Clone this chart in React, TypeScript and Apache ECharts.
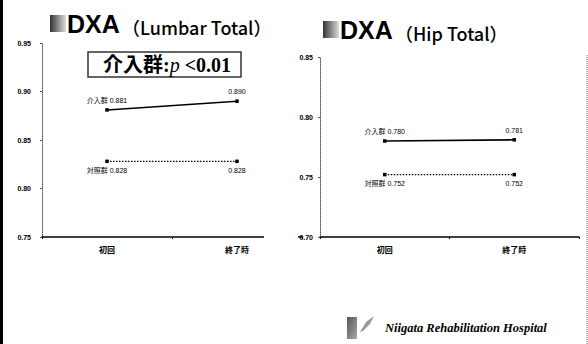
import React, { useEffect, useRef } from "react";
import * as echarts from "echarts";

const categories = ["初回", "終了時"];
const lumbarIntervention = [0.881, 0.89];
const lumbarControl = [0.828, 0.828];
const hipIntervention = [0.78, 0.781];
const hipControl = [0.752, 0.752];
const groupNames = ["介入群", "対照群"];
const lumbarTicks = { min: 0.75, max: 0.95, interval: 0.05 };
const hipTicks = { min: 0.7, max: 0.85, interval: 0.05 };

const FONT = "'Liberation Sans', 'Noto Sans CJK JP', sans-serif";

function labelFmt(name: string) {
  return (p: any) =>
    p.dataIndex === 0 ? `${name} ${p.value.toFixed(3)}` : p.value.toFixed(3);
}

function mkSeries(
  data: number[],
  name: string,
  idx: number,
  dotted: boolean,
  pos: "top" | "bottom"
) {
  return {
    type: "line",
    name,
    xAxisIndex: idx,
    yAxisIndex: idx,
    data,
    symbol: "rect",
    symbolSize: 3.5,
    itemStyle: { color: "#000" },
    lineStyle: { color: "#000", width: dotted ? 1.4 : 1.6, type: dotted ? [1.5, 1.5] : "solid" },
    label: {
      show: true,
      position: pos,
      distance: 4,
      fontSize: 7,
      fontFamily: FONT,
      color: "#000",
      formatter: labelFmt(name),
    },
  };
}

function title(x: number, y: number, sub: string) {
  return {
    type: "group",
    x,
    y,
    children: [
      {
        type: "rect",
        shape: { x: 0, y: 0, width: 16, height: 17 },
        style: {
          fill: new echarts.graphic.LinearGradient(0, 0, 1, 0, [
            { offset: 0, color: "#333" },
            { offset: 1, color: "#ddd" },
          ]),
        },
      },
      {
        type: "text",
        x: 17,
        y: 21,
        style: {
          text: "DXA",
          font: `bold 25px 'Liberation Sans', sans-serif`,
          fill: "#000",
          textVerticalAlign: "bottom",
        },
      },
      {
        type: "text",
        x: 72,
        y: 21,
        style: {
          text: sub,
          font: `500 18px 'Noto Sans CJK JP', sans-serif`,
          fill: "#000",
          textVerticalAlign: "bottom",
        },
      },
    ],
  };
}

export default function App() {
  const ref = useRef<HTMLDivElement>(null);
  useEffect(() => {
    if (!ref.current) return;
    const chart = echarts.init(ref.current, null, { renderer: "svg" });
    const axisLabel = { fontSize: 7, fontFamily: FONT, color: "#000", fontWeight: "bold" as const };
    const yAxis = (t: any, idx: number, margin: number) => ({
      type: "value",
      gridIndex: idx,
      min: t.min,
      max: t.max,
      interval: t.interval,
      splitLine: { show: false },
      axisLine: { show: true, lineStyle: { color: "#555", width: 1, type: [1, 1] } },
      axisTick: { show: true, length: 2, lineStyle: { color: "#555" } },
      axisLabel: { ...axisLabel, margin, formatter: (v: number) => v.toFixed(2) },
    });
    const xAxis = (idx: number) => ({
      type: "category",
      gridIndex: idx,
      data: categories,
      boundaryGap: true,
      axisLine: { show: true, lineStyle: { color: "#000", width: 1.5 } },
      axisTick: { show: true, length: 2, lineStyle: { color: "#000" } },
      axisLabel: { ...axisLabel, fontSize: 8, margin: 9 },
    });
    chart.setOption({
      animation: false,
      backgroundColor: "#fff",
      grid: [
        { left: 42, top: 43, width: 260, height: 194 },
        { left: 320, top: 57, width: 259, height: 180 },
      ],
      xAxis: [xAxis(0), xAxis(1)],
      yAxis: [yAxis(lumbarTicks, 0, 11), yAxis(hipTicks, 1, 7)],
      series: [
        mkSeries(lumbarIntervention, groupNames[0], 0, false, "top"),
        mkSeries(lumbarControl, groupNames[1], 0, true, "bottom"),
        mkSeries(hipIntervention, groupNames[0], 1, false, "top"),
        mkSeries(hipControl, groupNames[1], 1, true, "bottom"),
      ],
      graphic: [
        { type: "rect", z: 100, shape: { x: 264, y: 38, width: 34, height: 225 }, style: { fill: "#fff" } },
        { type: "rect", z: 100, shape: { x: 0, y: 0, width: 3, height: 344 }, style: { fill: "#000" } },
        {
          type: "line",
          z: 100,
          shape: { x1: 587, y1: 55, x2: 587, y2: 344 },
          style: { stroke: "#666", lineWidth: 1, lineDash: [1, 1] },
        },
        { ...title(50, 15, "（Lumbar Total）"), z: 100 },
        { ...title(323, 21, "（Hip Total）"), z: 100 },
        {
          type: "rect",
          z: 100,
          shape: { x: 88, y: 52, width: 153, height: 25 },
          style: { fill: "#fff", stroke: "#333", lineWidth: 1.5 },
        },
        {
          type: "text",
          z: 101,
          x: 167,
          y: 65,
          style: {
            text: "{a|介入群:}{p|p}{a| <0.01}",
            align: "center",
            verticalAlign: "middle",
            rich: {
              a: { fontSize: 20, fontFamily: "'Liberation Serif', 'Noto Sans CJK JP', serif", fill: "#000", fontWeight: "bold" },
              p: { fontSize: 20, fontFamily: "'Liberation Serif', serif", fontStyle: "italic", fill: "#000" },
            },
          },
        },
        {
          type: "rect",
          z: 100,
          shape: { x: 347, y: 317, width: 10, height: 22 },
          style: {
            fill: new echarts.graphic.LinearGradient(0, 0, 1, 1, [
              { offset: 0, color: "#555" },
              { offset: 1, color: "#aaa" },
            ]),
          },
        },
        {
          type: "polygon",
          z: 100,
          shape: { points: [[360, 332], [366, 322], [374, 316], [370, 324], [363, 331]] },
          style: { fill: "#999" },
        },
        {
          type: "text",
          z: 100,
          x: 385,
          y: 328,
          style: {
            text: "Niigata Rehabilitation Hospital",
            font: "italic bold 12.5px 'Liberation Serif', serif",
            fill: "#000",
            verticalAlign: "middle",
          },
        },
      ],
    });
    return () => chart.dispose();
  }, []);
  return (
    <div
      ref={ref}
      style={{ position: "fixed", left: 0, top: 0, width: 588, height: 344, background: "#fff" }}
    />
  );
}
